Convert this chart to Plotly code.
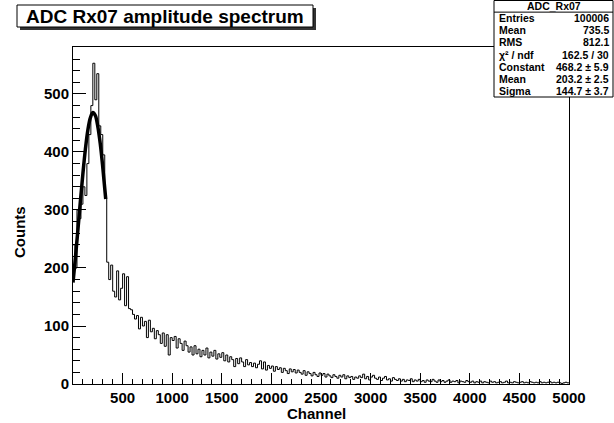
import numpy as np
import plotly.graph_objects as go

# ---------------- data ----------------
bin_width = 20
x_min, x_max = 0, 5000
counts = [
    # 0 - 500
    240, 200, 300, 285, 310, 340, 325, 380, 430, 480,
    553, 490, 535, 445, 430, 395, 320, 210, 180, 205,
    160, 150, 195, 145, 165,
    # 500 - 1000
    190, 135, 185, 130, 128, 120, 112, 118, 95, 115,
    100, 108, 80, 110, 90, 96, 78, 92, 85, 70,
    88, 65, 85, 50, 80,
    # 1000 - 1500
    75, 82, 62, 78, 70, 58, 74, 66, 55, 64,
    50, 66, 52, 60, 47, 58, 50, 62, 45, 55,
    48, 58, 43, 52, 46,
    # 1500 - 2000
    54, 40, 50, 38, 47, 42, 30, 44, 35, 45,
    38, 30, 42, 33, 37, 30, 36, 28, 34, 40,
    26, 38, 24, 32, 27,
    # 2000 - 2500
    31, 22, 30, 25, 28, 20, 27, 23, 18, 26,
    21, 25, 19, 24, 20, 17, 23, 15, 21, 18,
    14, 20, 16, 13, 19,
    # 2500 - 3000
    15, 18, 12, 17, 14, 11, 16, 13, 10, 15,
    12, 16, 9, 14, 11, 13, 8, 12, 10, 14,
    11, 17, 9, 13, 7,
    # 3000 - 3500
    12, 15, 10, 8, 12, 6, 10, 13, 7, 9,
    5, 11, 8, 6, 9, 5, 8, 4, 7, 6,
    9, 4, 7, 5, 8,
    # 3500 - 4000
    4, 6, 3, 7, 5, 4, 8, 5, 3, 7,
    4, 6, 3, 5, 7, 3, 5, 4, 6, 2,
    5, 4, 3, 6, 4,
    # 4000 - 4500
    3, 5, 2, 4, 3, 5, 2, 4, 3, 2,
    5, 3, 4, 2, 3, 4, 2, 3, 5, 2,
    3, 2, 4, 3, 2,
    # 4500 - 5000
    3, 4, 2, 3, 2, 4, 3, 2, 3, 2,
    4, 2, 3, 2, 3, 4, 2, 3, 2, 3,
    2, 1, 2, 3, 2,
]

# Gaussian fit curve
fit_x = [0, 25, 50, 75, 100, 125, 150, 175, 200, 225, 250, 275, 300, 330]
fit_y = [175, 219, 267, 316, 363, 405, 438, 459, 468, 463, 444, 414, 374, 319]

x_tick_vals = [500, 1000, 1500, 2000, 2500, 3000, 3500, 4000, 4500, 5000]
y_tick_vals = [0, 100, 200, 300, 400, 500]

title_text = "ADC Rx07 amplitude spectrum"
stats_title = "ADC_Rx07"
stats_labels = ["Entries", "Mean", "RMS", "\u03c7\u00b2 / ndf", "Constant", "Mean", "Sigma"]
stats_values = ["100006", "735.5", "812.1", "162.5 / 30", "468.2 \u00b1 5.9", "203.2 \u00b1 2.5", "144.7 \u00b1 3.7"]

# ---------------- layout geometry (pixels) ----------------
W, H = 614, 423
L, R, T, B = 73, 569, 47, 384


def px(x):
    return (x - L) / (R - L)


def py(y):
    return (B - y) / (B - T)


FONT = "Liberation Sans, Arial, Helvetica, sans-serif"

# step outline of the histogram
edges = x_min + bin_width * np.arange(len(counts) + 1)
step_x = list(edges)
step_y = list(counts) + [counts[-1]]

fig = go.Figure()
fig.add_trace(go.Scatter(
    x=step_x, y=step_y, mode="lines", line=dict(shape="hv", color="black", width=1),
    hoverinfo="skip", showlegend=False,
))
fig.add_trace(go.Scatter(
    x=fit_x, y=fit_y, mode="lines", line=dict(shape="spline", color="black", width=3.5),
    hoverinfo="skip", showlegend=False,
))

fig.update_layout(
    width=W, height=H,
    margin=dict(l=L, r=W - R, t=T, b=H - B, pad=0),
    paper_bgcolor="white", plot_bgcolor="white",
    font=dict(family=FONT, color="black"),
    showlegend=False,
    xaxis=dict(
        range=[x_min, x_max], tickvals=x_tick_vals,
        ticks="inside", ticklen=11, tickwidth=1, tickcolor="black",
        showline=True, linecolor="black", linewidth=1, mirror=True,
        showgrid=False, zeroline=False,
        tickfont=dict(family=FONT, size=15, weight="bold", color="black"),
        minor=dict(ticks="inside", ticklen=5, dtick=100, tick0=0, tickcolor="black", tickwidth=1, showgrid=False),
    ),
    yaxis=dict(
        range=[0, 581], tickvals=y_tick_vals,
        ticks="inside", ticklen=13, tickwidth=1, tickcolor="black",
        showline=True, linecolor="black", linewidth=1, mirror=True,
        showgrid=False, zeroline=False,
        tickfont=dict(family=FONT, size=15, weight="bold", color="black"),
        minor=dict(ticks="inside", ticklen=7, dtick=20, tick0=0, tickcolor="black", tickwidth=1, showgrid=False),
    ),
)

shapes = []
annotations = []

# title pave with shadow
shapes.append(dict(type="rect", xref="paper", yref="paper",
                   x0=px(20), x1=px(316), y0=py(30), y1=py(8),
                   fillcolor="#333", line=dict(width=0), layer="above"))
shapes.append(dict(type="rect", xref="paper", yref="paper",
                   x0=px(17), x1=px(313), y0=py(27), y1=py(5),
                   fillcolor="white", line=dict(color="black", width=1), layer="above"))
annotations.append(dict(xref="paper", yref="paper", x=px(165), y=py(16),
                        text="<b>%s</b>" % title_text, showarrow=False,
                        xanchor="center", yanchor="middle",
                        font=dict(family=FONT, size=19, color="black")))

# stats box
sb_x0, sb_x1, sb_y0, sb_y1 = 494, 613, 0, 97
row_h = (sb_y1 - sb_y0) / 8.0
shapes.append(dict(type="rect", xref="paper", yref="paper",
                   x0=px(sb_x0), x1=px(sb_x1), y0=py(sb_y1), y1=py(sb_y0 + 0.5),
                   fillcolor="white", line=dict(color="black", width=1), layer="above"))
shapes.append(dict(type="line", xref="paper", yref="paper",
                   x0=px(sb_x0), x1=px(sb_x1), y0=py(sb_y0 + row_h), y1=py(sb_y0 + row_h),
                   line=dict(color="black", width=1), layer="above"))
annotations.append(dict(xref="paper", yref="paper", x=px((sb_x0 + sb_x1) / 2), y=py(sb_y0 + row_h / 2),
                        text="<b>%s</b>" % stats_title, showarrow=False,
                        xanchor="center", yanchor="middle",
                        font=dict(family=FONT, size=10.5, color="black")))
for i, (lab, val) in enumerate(zip(stats_labels, stats_values)):
    yc = sb_y0 + row_h * (i + 1.5)
    annotations.append(dict(xref="paper", yref="paper", x=px(sb_x0 + 3), y=py(yc),
                            text="<b>%s</b>" % lab, showarrow=False,
                            xanchor="left", yanchor="middle",
                            font=dict(family=FONT, size=10.5, color="black")))
    annotations.append(dict(xref="paper", yref="paper", x=px(sb_x1 - 2), y=py(yc),
                            text="<b>%s</b>" % val, showarrow=False,
                            xanchor="right", yanchor="middle",
                            font=dict(family=FONT, size=10.5, color="black")))

# axis titles
annotations.append(dict(xref="paper", yref="paper", x=px(316), y=py(413),
                        text="<b>Channel</b>", showarrow=False,
                        xanchor="center", yanchor="middle",
                        font=dict(family=FONT, size=15, color="black")))
annotations.append(dict(xref="paper", yref="paper", x=px(19), y=py(232),
                        text="<b>Counts</b>", showarrow=False, textangle=-90,
                        xanchor="center", yanchor="middle",
                        font=dict(family=FONT, size=15, color="black")))

fig.update_layout(shapes=shapes, annotations=annotations)
fig.write_html("out.html")
